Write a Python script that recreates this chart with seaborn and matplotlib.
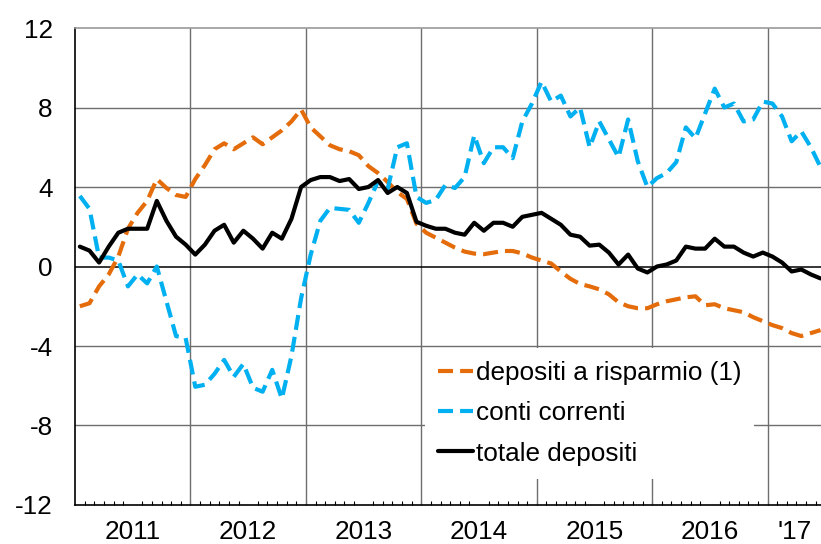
import numpy as np
import pandas as pd
import matplotlib
matplotlib.use("Agg")
import matplotlib.pyplot as plt
import seaborn as sns

# ── Data (monthly, Jan 2011 – Jun 2017, % change yoy) ─────────────────────────
N_MONTHS = 78

risparmio = [
    -2.0, -1.85, -1.0, -0.4, 0.5, 1.9, 2.7, 3.3, 4.4, 3.95, 3.6, 3.5,
    4.4, 5.1, 5.9, 6.2, 5.9, 6.2, 6.5, 6.15, 6.5, 6.85, 7.3, 7.9,
    7.0, 6.55, 6.1, 5.9, 5.8, 5.6, 5.05, 4.7, 4.25, 3.75, 3.4, 2.15,
    1.7, 1.45, 1.2, 0.95, 0.75, 0.65, 0.62, 0.7, 0.78, 0.78, 0.66, 0.45,
    0.3, 0.15, -0.25, -0.62, -0.88, -1.0, -1.15, -1.4, -1.8, -2.0, -2.1, -2.1,
    -1.9, -1.75, -1.65, -1.55, -1.5, -1.95, -1.9, -2.1, -2.2, -2.3, -2.55, -2.75,
    -2.95, -3.1, -3.35, -3.5, -3.35, -3.2,
]

conti_correnti = [
    3.55, 2.9, 0.45, 0.45, 0.3, -1.0, -0.4, -0.85, 0.0, -1.75, -3.5, -3.6,
    -6.05, -5.95, -5.4, -4.7, -5.55, -4.9, -6.1, -6.3, -5.2, -6.65, -4.5, -1.6,
    0.6, 2.3, 2.95, 2.9, 2.85, 2.2, 3.2, 4.3, 3.9, 6.0, 6.2, 3.5,
    3.2, 3.35, 4.1, 3.95, 4.5, 6.6, 5.2, 6.0, 6.0, 5.45, 7.3, 8.2,
    9.3, 8.3, 8.6, 7.55, 8.0, 6.0, 7.3, 6.4, 5.5, 7.4, 5.3, 4.0,
    4.45, 4.7, 5.25, 7.0, 6.45, 7.7, 8.95, 8.0, 8.2, 7.3, 7.4, 8.3,
    8.2, 7.55, 6.3, 6.8, 6.0, 5.0,
]

totale = [
    1.0, 0.8, 0.2, 1.0, 1.7, 1.9, 1.9, 1.9, 3.3, 2.3, 1.5, 1.1,
    0.6, 1.1, 1.8, 2.1, 1.2, 1.8, 1.4, 0.9, 1.7, 1.4, 2.4, 4.0,
    4.35, 4.5, 4.5, 4.3, 4.4, 3.9, 4.0, 4.35, 3.7, 4.0, 3.7, 2.25,
    2.05, 1.9, 1.9, 1.7, 1.6, 2.2, 1.8, 2.2, 2.2, 2.0, 2.5, 2.6,
    2.7, 2.4, 2.1, 1.6, 1.5, 1.05, 1.1, 0.7, 0.1, 0.6, -0.1, -0.3,
    0.0, 0.1, 0.3, 1.0, 0.9, 0.9, 1.4, 1.0, 1.0, 0.7, 0.5, 0.7,
    0.5, 0.2, -0.25, -0.15, -0.4, -0.6,
]

year_labels = ["2011", "2012", "2013", "2014", "2015", "2016", "'17"]
year_label_pos = [6, 18, 30, 42, 54, 66, 74.8]

series_names = ["depositi a risparmio (1)", "conti correnti", "totale depositi"]
colors = ["#E46C0A", "#00B0F0", "#000000"]

# ── Style ─────────────────────────────────────────────────────────────────────
sns.set_theme(style="white")
plt.rcParams["font.family"] = ["Liberation Sans", "DejaVu Sans"]
plt.rcParams["text.color"] = "black"
FS = 18.8

months = np.arange(N_MONTHS) + 0.5
df = pd.DataFrame({
    "month": np.tile(months, 3),
    "value": risparmio + conti_correnti + totale,
    "serie": np.repeat(series_names, N_MONTHS),
})

fig = plt.figure(figsize=(8.21, 5.44), dpi=100)
ax = fig.add_axes([0.0914, 0.0717, 0.9086, 0.8768])

# grid
grid_c = "#6e6e6e"
for yv in [-8, -4, 4, 8]:
    ax.axhline(yv, color=grid_c, lw=1.0, zorder=1)
for xv in range(12, 73, 12):
    ax.axvline(xv, color=grid_c, lw=1.0, zorder=1)
ax.axhline(0, color="black", lw=1.1, zorder=1)

dash = (0, (3.6, 1.7))
styles = [dash, dash, "-"]
for name, c, ls in zip(series_names, colors, styles):
    sns.lineplot(data=df[df["serie"] == name], x="month", y="value",
                 color=c, linestyle=ls, lw=3.0, ax=ax, label=name, zorder=3)

ax.set_xlim(0, 77.55)
ax.set_ylim(-12, 12)
ax.set_yticks([-12, -8, -4, 0, 4, 8, 12])
ax.set_yticklabels(["-12", "-8", "-4", "0", "4", "8", "12"])
ax.tick_params(axis="y", length=0, pad=16, labelsize=FS, colors="black")

ax.set_xticks(year_label_pos)
ax.set_xticklabels(year_labels)
ax.set_xticks(np.arange(1, 78), minor=True)
ax.tick_params(axis="x", which="major", direction="in", length=7, width=0.8,
               pad=11, labelsize=FS, colors="black")
ax.tick_params(axis="x", which="minor", direction="in", length=3.2, width=0.8,
               color="black", bottom=True)
ax.xaxis.get_major_ticks()[-1].tick1line.set_markersize(3.2)
ax.set_xlabel("")
ax.set_ylabel("")

for side in ["left", "bottom"]:
    ax.spines[side].set_color("black")
    ax.spines[side].set_linewidth(1.2)
ax.spines["top"].set_color("#9a9a9a")
ax.spines["top"].set_linewidth(1.2)
ax.spines["right"].set_visible(False)

leg = ax.legend(loc="upper left", bbox_to_anchor=(0.469, 0.329),
                borderaxespad=0, frameon=True, fancybox=False,
                fontsize=FS, handlelength=1.35, handletextpad=0.1,
                labelspacing=0.62, borderpad=0.5)
leg.get_frame().set_facecolor("white")
leg.get_frame().set_edgecolor("none")
leg.get_frame().set_alpha(1)
leg.set_zorder(5)
for t in leg.get_texts():
    t.set_color("black")

fig.savefig("out.png", dpi=100)
